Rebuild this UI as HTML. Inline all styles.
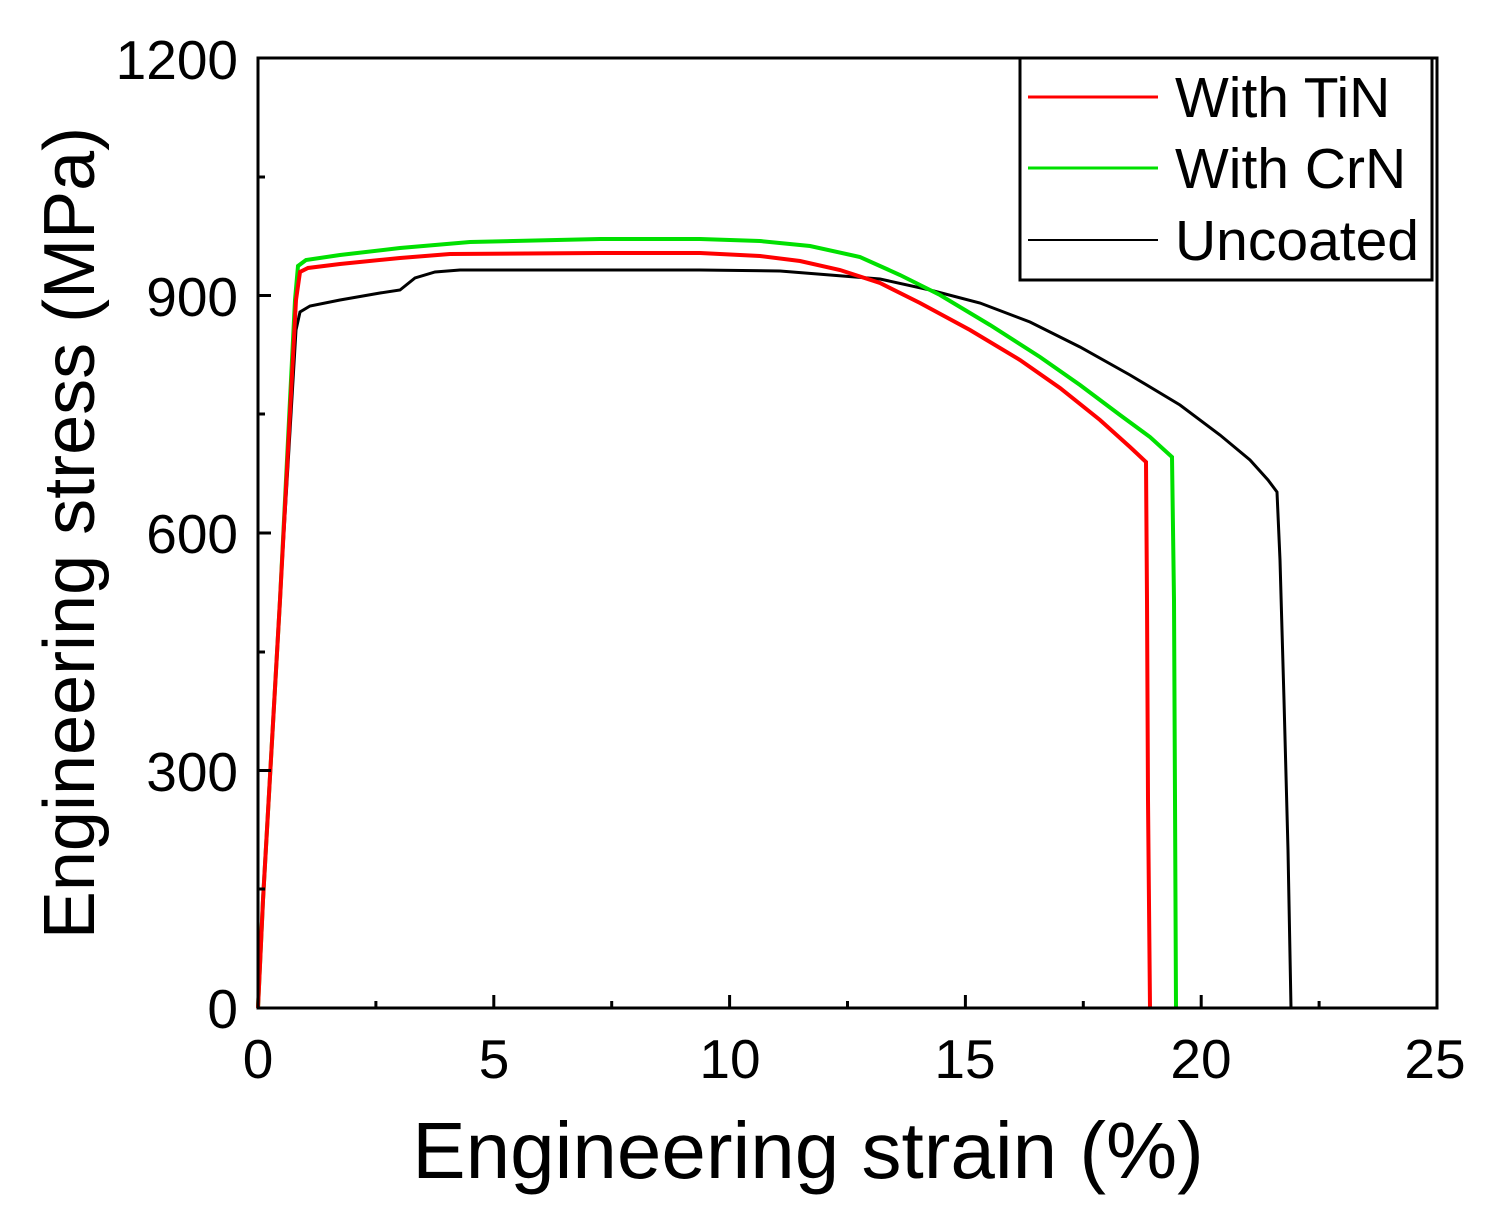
<!DOCTYPE html>
<html><head><style>
html,body{margin:0;padding:0;background:#fff;}
svg{display:block;font-family:"Liberation Sans",Arial,sans-serif;}
</style></head><body>
<svg width="1504" height="1220" viewBox="0 0 1504 1220" xmlns="http://www.w3.org/2000/svg">
<rect width="1504" height="1220" fill="#fff"/>
<polyline fill="none" stroke="#000" stroke-width="3" points="258,1008 263,900 280,600 296,330 300,312 310,306 340,300 380,293 400,290 415,278 435,272 460,270 600,270 700,270 780,271 830,275 880,279 930,290 980,303 1030,322 1080,347 1130,375 1180,405 1220,435 1250,460 1268,480 1277,492 1280,560 1284,700 1288,850 1291,1008"/>
<polyline fill="none" stroke="#00e000" stroke-width="4" points="258,1008 263,900 280,600 295,300 298,266 306,260 340,255 400,248 470,242 600,239 700,239 760,241 810,246 860,257 900,275 940,295 990,325 1040,357 1080,385 1120,415 1150,437 1172,457 1174,600 1175,800 1176,1008"/>
<polyline fill="none" stroke="#ff0000" stroke-width="4" points="258,1008 263,900 280,600 296,300 300,272 308,268 340,264 400,258 450,254 600,253 700,253 760,256 800,261 840,270 880,283 920,303 970,330 1020,360 1060,388 1100,420 1130,447 1146,462 1147,600 1148,800 1150,1008"/>
<rect x="258" y="58" width="1179" height="950" fill="none" stroke="#000" stroke-width="3"/>
<g stroke="#000" stroke-width="3">
<line x1="493.8" y1="1008" x2="493.8" y2="995"/><line x1="729.6" y1="1008" x2="729.6" y2="995"/><line x1="965.4" y1="1008" x2="965.4" y2="995"/><line x1="1201.2" y1="1008" x2="1201.2" y2="995"/>
<line x1="375.9" y1="1008" x2="375.9" y2="1001"/><line x1="611.7" y1="1008" x2="611.7" y2="1001"/><line x1="847.5" y1="1008" x2="847.5" y2="1001"/><line x1="1083.3" y1="1008" x2="1083.3" y2="1001"/><line x1="1319.1" y1="1008" x2="1319.1" y2="1001"/>
<line x1="258" y1="770.5" x2="271" y2="770.5"/><line x1="258" y1="533" x2="271" y2="533"/><line x1="258" y1="295.5" x2="271" y2="295.5"/>
<line x1="258" y1="889" x2="265" y2="889"/><line x1="258" y1="652" x2="265" y2="652"/><line x1="258" y1="414" x2="265" y2="414"/><line x1="258" y1="177" x2="265" y2="177"/>
</g>
<g font-size="55" fill="#000" text-anchor="end">
<text x="238" y="1028">0</text><text x="238" y="791">300</text><text x="238" y="553">600</text><text x="238" y="316">900</text><text x="238" y="79">1200</text>
</g>
<g font-size="55" fill="#000" text-anchor="middle">
<text x="258" y="1078">0</text><text x="494" y="1078">5</text><text x="730" y="1078">10</text><text x="965" y="1078">15</text><text x="1201" y="1078">20</text><text x="1435" y="1078">25</text>
</g>
<text x="808" y="1178" font-size="80" text-anchor="middle">Engineering strain (%)</text>
<text transform="translate(94,533) rotate(-90)" font-size="72" text-anchor="middle">Engineering stress (MPa)</text>
<rect x="1020" y="58" width="412" height="222" fill="#fff" stroke="#000" stroke-width="3"/>
<line x1="1028" y1="97" x2="1158" y2="97" stroke="#ff0000" stroke-width="3"/>
<line x1="1028" y1="168" x2="1158" y2="168" stroke="#00e000" stroke-width="3"/>
<line x1="1028" y1="240" x2="1158" y2="240" stroke="#000" stroke-width="2"/>
<g font-size="57" fill="#000">
<text x="1175" y="117">With TiN</text><text x="1175" y="188">With CrN</text><text x="1175" y="260">Uncoated</text>
</g>
</svg>
</body></html>
